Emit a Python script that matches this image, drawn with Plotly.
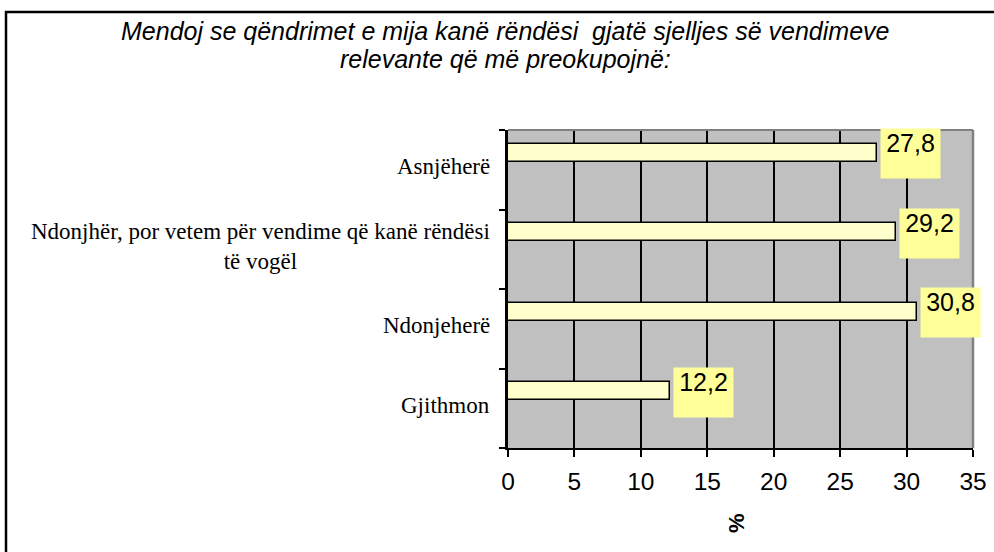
import plotly.graph_objects as go

title_lines = ["Mendoj se qëndrimet e mija kanë rëndësi  gjatë sjelljes së vendimeve",
               "relevante që më preokupojnë:"]
categories = ["Asnjëherë",
              "Ndonjhër, por vetem për vendime që kanë rëndësi<br>të vogël",
              "Ndonjeherë",
              "Gjithmon"]
values = [27.8, 29.2, 30.8, 12.2]
value_labels = ["27,8", "29,2", "30,8", "12,2"]
x_ticks = [0, 5, 10, 15, 20, 25, 30, 35]
x_title = "%"

W, H = 994, 552
ML, MR, MT, MB = 508, 21, 130, 104
PW, PH = W - ML - MR, H - MT - MB

BAR_OFFSET, BAR_WIDTH = 0.1, 0.226
order = list(reversed(categories))  # bottom to top
pos = {c: order.index(c) for c in categories}

SANS = "Liberation Sans, Arial, sans-serif"
SERIF = "Liberation Serif, Times New Roman, serif"

fig = go.Figure()
fig.add_trace(go.Bar(
    x=values, y=[pos[c] for c in categories], orientation="h",
    offset=BAR_OFFSET, width=BAR_WIDTH,
    marker=dict(color="#FFFFCC", line=dict(color="black", width=1.5)),
    hoverinfo="skip", showlegend=False,
))

annotations = []
for c in categories:
    annotations.append(dict(
        x=0, y=pos[c], xref="x", yref="y", text=c, showarrow=False,
        xanchor="right", yanchor="middle", align="center", xshift=-16, yshift=3,
        font=dict(family=SERIF, size=23, color="black"),
    ))
for c, v, t in zip(categories, values, value_labels):
    annotations.append(dict(
        x=v, y=pos[c] + BAR_OFFSET + BAR_WIDTH / 2, xref="x", yref="y", text=t,
        showarrow=False, xanchor="left", yanchor="middle", xshift=3, yshift=-1,
        bgcolor="#FFFF99", width=59, height=49, borderpad=0, valign="top",
        font=dict(family=SANS, size=25, color="black"),
    ))
for i, line in enumerate(title_lines):
    annotations.append(dict(
        x=(505 - ML) / PW, y=(H - MB - (31 + 28 * i)) / PH, xref="paper", yref="paper",
        text="<i>" + line + "</i>", showarrow=False, xanchor="center", yanchor="middle",
        font=dict(family=SANS, size=25, color="black"),
    ))
annotations.append(dict(
    x=(736 - ML) / PW, y=(H - MB - 523) / PH, xref="paper", yref="paper",
    text="<b>" + x_title + "</b>", showarrow=False, textangle=-90,
    xanchor="center", yanchor="middle",
    font=dict(family=SANS, size=22, color="black"),
))

shapes = [
    dict(type="rect", xref="paper", yref="paper",
         x0=(6 - ML) / PW, x1=(W + 20 - ML) / PW,
         y0=(H - MB - (H + 20)) / PH, y1=(H - MB - 12) / PH,
         line=dict(color="black", width=2.5), fillcolor="rgba(0,0,0,0)", layer="below"),
    dict(type="line", xref="paper", yref="paper", x0=0, x1=1, y0=1, y1=1,
         line=dict(color="#808080", width=2), layer="above"),
    dict(type="line", xref="paper", yref="paper", x0=1, x1=1, y0=0, y1=1,
         line=dict(color="#808080", width=2.5), layer="above"),
]

fig.update_layout(
    width=W, height=H,
    margin=dict(l=ML, r=MR, t=MT, b=MB, autoexpand=False),
    paper_bgcolor="white", plot_bgcolor="#C0C0C0",
    annotations=annotations, shapes=shapes,
    xaxis=dict(range=[0, 35], tickvals=x_ticks, ticktext=[str(t) for t in x_ticks],
               showgrid=True, gridcolor="black", gridwidth=2,
               showline=True, linecolor="black", linewidth=2,
               ticks="outside", ticklen=7, tickwidth=2, tickcolor="black",
               ticklabelstandoff=4, automargin=False,
               tickfont=dict(family=SANS, size=24.5, color="black"),
               zeroline=False, fixedrange=True),
    yaxis=dict(range=[-0.5, len(categories) - 0.5],
               tickvals=[i - 0.5 for i in range(len(categories) + 1)],
               showticklabels=False, showgrid=False, automargin=False,
               showline=True, linecolor="black", linewidth=2.5,
               ticks="outside", ticklen=6, tickwidth=2, tickcolor="black",
               zeroline=False, fixedrange=True),
    bargap=0,
)

fig.write_html("out.html", config={"displayModeBar": False},
               post_script="document.body.style.margin='0';document.body.style.overflow='hidden';")
